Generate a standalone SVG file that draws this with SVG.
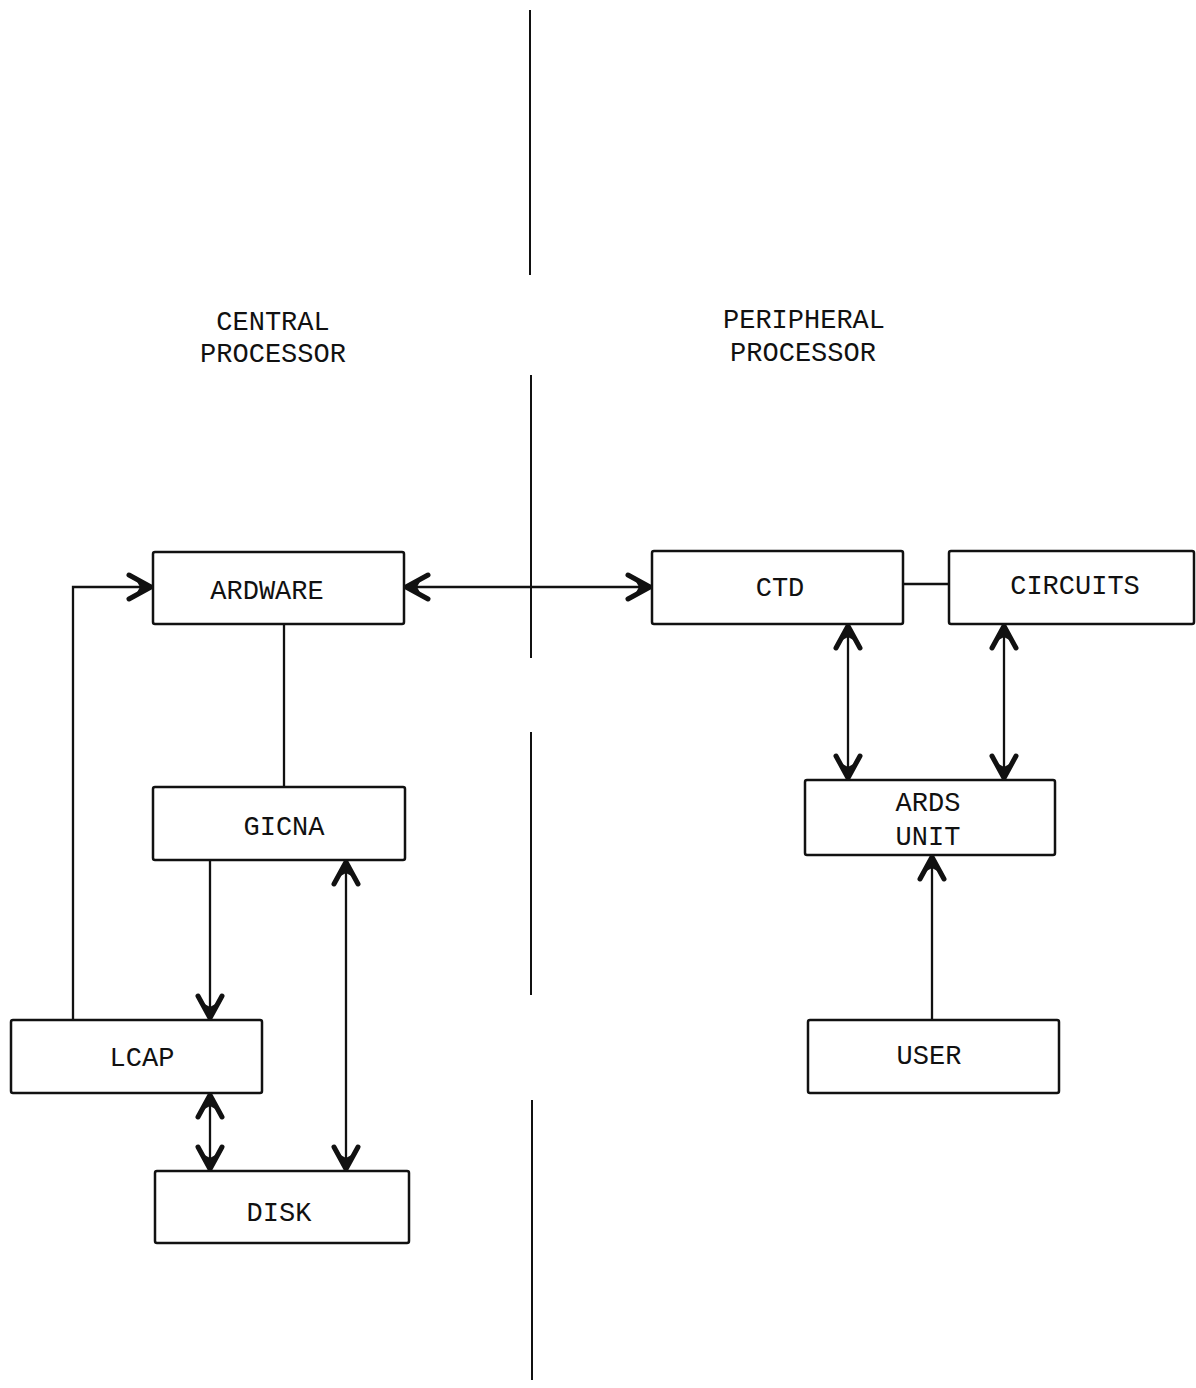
<svg xmlns="http://www.w3.org/2000/svg" width="1196" height="1388" viewBox="0 0 1196 1388">
<style>
.box{fill:#fff;stroke:#111;stroke-width:2.5}
.t{font-family:"Liberation Mono","Courier New",monospace;font-size:27px;fill:#111;text-anchor:middle}
.c{fill:none;stroke:#111;stroke-width:2.3}
.div{fill:none;stroke:#111;stroke-width:2}
</style>
<defs>
<marker id="ah" markerUnits="userSpaceOnUse" markerWidth="40" markerHeight="40" refX="0" refY="0" viewBox="-30 -20 32 40" orient="auto-start-reverse" overflow="visible">
<path d="M-22,-12 L0,0 L-22,12" fill="none" stroke="#111" stroke-width="5" stroke-linecap="round" stroke-linejoin="miter"/>
<path d="M1,0 L-16,-9 L-11,0 L-16,9 Z" fill="#111"/>
</marker>
</defs>
<rect width="1196" height="1388" fill="#fff"/>
<g id="divider">
<line class="div" x1="530" y1="10" x2="530" y2="275"/>
<line class="div" x1="531" y1="375" x2="531" y2="658"/>
<line class="div" x1="531" y1="732" x2="531" y2="995"/>
<line class="div" x1="532" y1="1100" x2="532" y2="1380"/>
</g>
<g id="label-central">
<text class="t" x="273" y="330">CENTRAL</text>
<text class="t" x="273" y="362">PROCESSOR</text>
</g>
<g id="label-peripheral">
<text class="t" x="804" y="328">PERIPHERAL</text>
<text class="t" x="803" y="361">PROCESSOR</text>
</g>
<g id="connectors">
<polyline class="c" points="73,1020 73,587 151,587" marker-end="url(#ah)"/>
<line class="c" x1="406" y1="587" x2="650" y2="587" marker-start="url(#ah)" marker-end="url(#ah)"/>
<line class="c" x1="903" y1="584" x2="949" y2="584"/>
<line class="c" x1="284" y1="624" x2="284" y2="787"/>
<line class="c" x1="210" y1="860" x2="210" y2="1018" marker-end="url(#ah)"/>
<line class="c" x1="346" y1="862" x2="346" y2="1169" marker-start="url(#ah)" marker-end="url(#ah)"/>
<line class="c" x1="210" y1="1095" x2="210" y2="1169" marker-start="url(#ah)" marker-end="url(#ah)"/>
<line class="c" x1="848" y1="626" x2="848" y2="778" marker-start="url(#ah)" marker-end="url(#ah)"/>
<line class="c" x1="1004" y1="626" x2="1004" y2="778" marker-start="url(#ah)" marker-end="url(#ah)"/>
<line class="c" x1="932" y1="1020" x2="932" y2="857" marker-end="url(#ah)"/>
</g>
<g id="ardware"><rect class="box" x="153" y="552" width="251" height="72" rx="2"/><text class="t" x="267" y="599">ARDWARE</text></g>
<g id="ctd"><rect class="box" x="652" y="551" width="251" height="73" rx="2"/><text class="t" x="780" y="596">CTD</text></g>
<g id="circuits"><rect class="box" x="949" y="551" width="245" height="73" rx="2"/><text class="t" x="1075" y="594">CIRCUITS</text></g>
<g id="gicna"><rect class="box" x="153" y="787" width="252" height="73" rx="2"/><text class="t" x="284" y="835">GICNA</text></g>
<g id="lcap"><rect class="box" x="11" y="1020" width="251" height="73" rx="2"/><text class="t" x="142" y="1066">LCAP</text></g>
<g id="disk"><rect class="box" x="155" y="1171" width="254" height="72" rx="2"/><text class="t" x="279" y="1221">DISK</text></g>
<g id="ards"><rect class="box" x="805" y="780" width="250" height="75" rx="2"/><text class="t" x="928" y="811">ARDS</text><text class="t" x="928" y="845">UNIT</text></g>
<g id="user"><rect class="box" x="808" y="1020" width="251" height="73" rx="2"/><text class="t" x="929" y="1064">USER</text></g>
</svg>
